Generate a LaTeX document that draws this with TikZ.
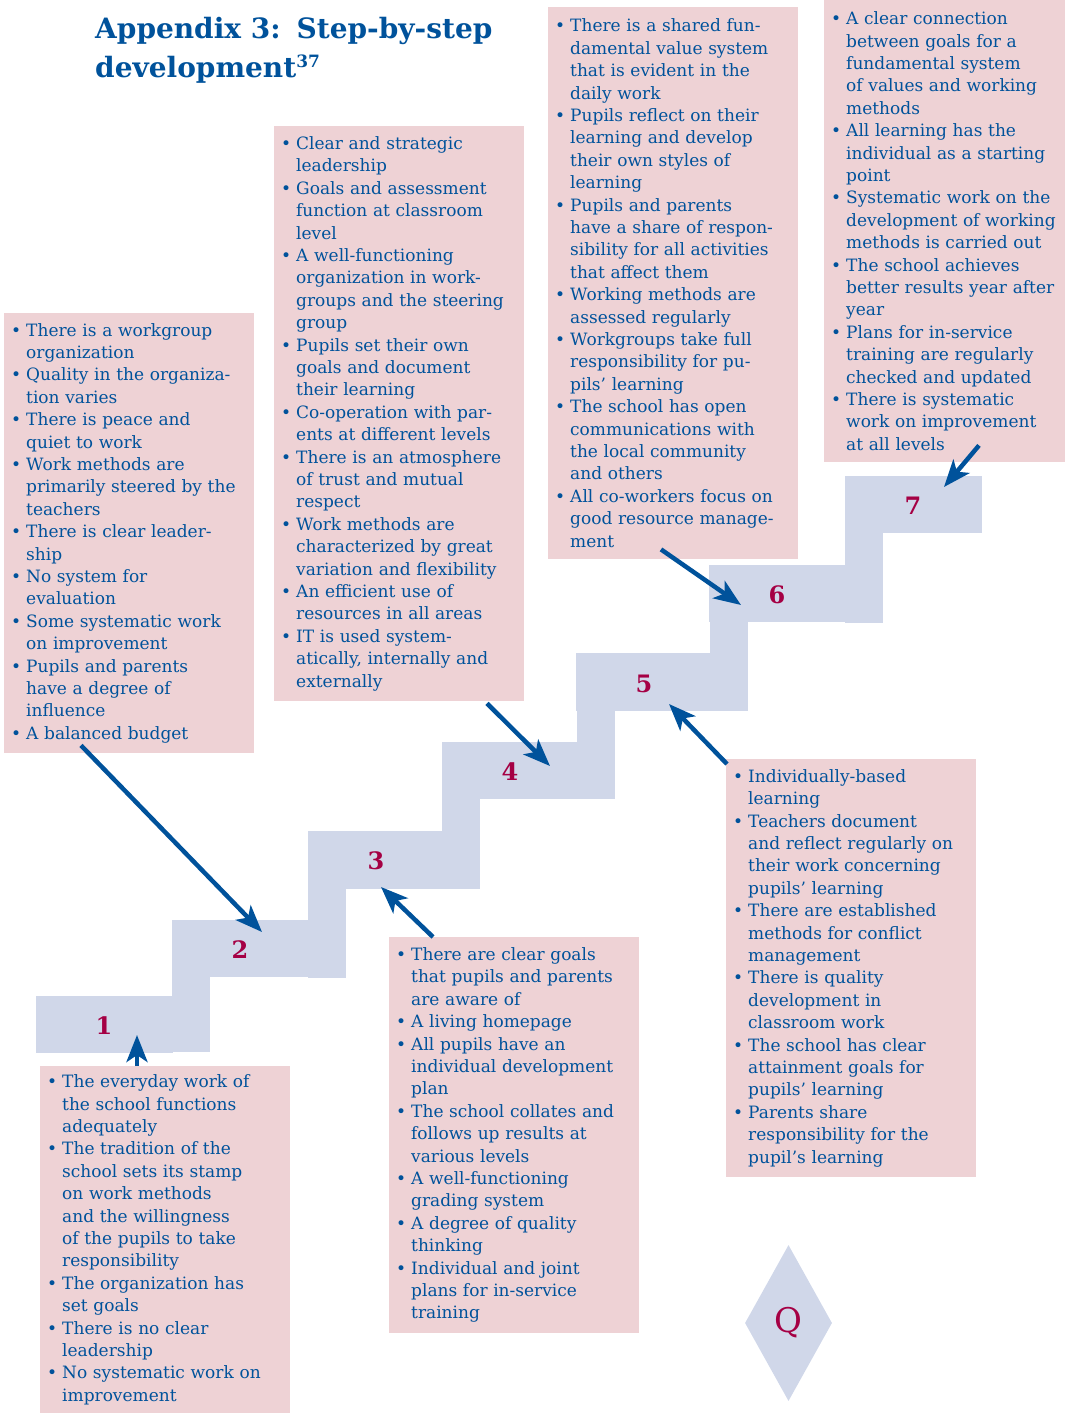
\documentclass[tikz,border=0pt]{standalone}
\usepackage{fontspec}
\setmainfont{DejaVu Serif}
\usetikzlibrary{arrows.meta,calc,shapes.geometric}
\definecolor{stairblue}{HTML}{D0D7E9}
\definecolor{boxpink}{HTML}{EED2D5}
\definecolor{inkblue}{HTML}{00529B}
\definecolor{maroon}{HTML}{A50044}
\newcommand\Bu[1]{\makebox[0pt][l]{\hspace*{7pt}\smash{•}\hspace*{5pt}#1}}
\newcommand\Co[1]{\makebox[0pt][l]{\hspace*{22pt}#1}}
\tikzset{
  pinkbox/.style={fill=boxpink,text=inkblue,anchor=north west,inner sep=0pt,align=left,
    font=\fontsize{17}{22.4}\selectfont},
  stepnum/.style={text=maroon,font=\fontsize{24}{24}\selectfont\bfseries,inner sep=0pt},
  stair/.style={fill=stairblue},
  arr/.style={draw=inkblue,line width=4.5pt,-{Stealth[length=27pt,width=21pt,inset=7pt]}}
}
\begin{document}
\begin{tikzpicture}[x=1pt,y=-1pt]
\useasboundingbox (0,0) rectangle (1065,1413);
% stairs
\fill[stair] (36,996) rectangle (173,1053);
\fill[stair] (172,920) rectangle (210,1052);
\fill[stair] (172,920) rectangle (309,977);
\fill[stair] (308,831) rectangle (346,978);
\fill[stair] (308,831) rectangle (443,889);
\fill[stair] (442,742) rectangle (480,889);
\fill[stair] (442,742) rectangle (578,799);
\fill[stair] (577,653) rectangle (615,799);
\fill[stair] (576,653) rectangle (711,711);
\fill[stair] (710,565) rectangle (748,711);
\fill[stair] (709,565) rectangle (846,622);
\fill[stair] (845,476) rectangle (883,623);
\fill[stair] (845,476) rectangle (982,533);
\node[stepnum] (s1) at (104,1026) {1};
\node[stepnum] (s2) at (240,950) {2};
\node[stepnum] (s3) at (376,861) {3};
\node[stepnum] (s4) at (510,772) {4};
\node[stepnum] (s5) at (644,684) {5};
\node[stepnum] (s6) at (777,595) {6};
\node[stepnum] (s7) at (913,506) {7};
% title
\node[anchor=north west,inner sep=0pt,text=inkblue,align=left,
  font=\fontsize{28}{39}\selectfont\bfseries] (title) at (95,17)
  {Appendix 3:\hspace{16pt}Step-by-step\\development\raisebox{10pt}{\fontsize{17}{17}\selectfont 37}};
% boxes
\node[pinkbox,text width=250pt,minimum height=347pt] (b1) at (40,1066) {%
\Bu{The everyday work of}\\\Co{the school functions}\\\Co{adequately}\\
\Bu{The tradition of the}\\\Co{school sets its stamp}\\\Co{on work methods}\\\Co{and the willingness}\\\Co{of the pupils to take}\\\Co{responsibility}\\
\Bu{The organization has}\\\Co{set goals}\\
\Bu{There is no clear}\\\Co{leadership}\\
\Bu{No systematic work on}\\\Co{improvement}};
\node[pinkbox,text width=250pt,minimum height=440pt] (b2) at (4,313) {%
\Bu{There is a workgroup}\\\Co{organization}\\
\Bu{Quality in the organiza-}\\\Co{tion varies}\\
\Bu{There is peace and}\\\Co{quiet to work}\\
\Bu{Work methods are}\\\Co{primarily steered by the}\\\Co{teachers}\\
\Bu{There is clear leader-}\\\Co{ship}\\
\Bu{No system for}\\\Co{evaluation}\\
\Bu{Some systematic work}\\\Co{on improvement}\\
\Bu{Pupils and parents}\\\Co{have a degree of}\\\Co{influence}\\
\Bu{A balanced budget}};
\node[pinkbox,text width=250pt,minimum height=396pt] (b3) at (389,937) {%
\Bu{There are clear goals}\\\Co{that pupils and parents}\\\Co{are aware of}\\
\Bu{A living homepage}\\
\Bu{All pupils have an}\\\Co{individual development}\\\Co{plan}\\
\Bu{The school collates and}\\\Co{follows up results at}\\\Co{various levels}\\
\Bu{A well-functioning}\\\Co{grading system}\\
\Bu{A degree of quality}\\\Co{thinking}\\
\Bu{Individual and joint}\\\Co{plans for in-service}\\\Co{training}};
\node[pinkbox,text width=250pt,minimum height=575pt] (b4) at (274,126) {%
\Bu{Clear and strategic}\\\Co{leadership}\\
\Bu{Goals and assessment}\\\Co{function at classroom}\\\Co{level}\\
\Bu{A well-functioning}\\\Co{organization in work-}\\\Co{groups and the steering}\\\Co{group}\\
\Bu{Pupils set their own}\\\Co{goals and document}\\\Co{their learning}\\
\Bu{Co-operation with par-}\\\Co{ents at different levels}\\
\Bu{There is an atmosphere}\\\Co{of trust and mutual}\\\Co{respect}\\
\Bu{Work methods are}\\\Co{characterized by great}\\\Co{variation and flexibility}\\
\Bu{An efficient use of}\\\Co{resources in all areas}\\
\Bu{IT is used system-}\\\Co{atically, internally and}\\\Co{externally}};
\node[pinkbox,text width=250pt,minimum height=418pt] (b5) at (726,759) {%
\Bu{Individually-based}\\\Co{learning}\\
\Bu{Teachers document}\\\Co{and reflect regularly on}\\\Co{their work concerning}\\\Co{pupils’ learning}\\
\Bu{There are established}\\\Co{methods for conflict}\\\Co{management}\\
\Bu{There is quality}\\\Co{development in}\\\Co{classroom work}\\
\Bu{The school has clear}\\\Co{attainment goals for}\\\Co{pupils’ learning}\\
\Bu{Parents share}\\\Co{responsibility for the}\\\Co{pupil’s learning}};
\node[pinkbox,text width=250pt,minimum height=552pt] (b6) at (548,7) {%
\Bu{There is a shared fun-}\\\Co{damental value system}\\\Co{that is evident in the}\\\Co{daily work}\\
\Bu{Pupils reflect on their}\\\Co{learning and develop}\\\Co{their own styles of}\\\Co{learning}\\
\Bu{Pupils and parents}\\\Co{have a share of respon-}\\\Co{sibility for all activities}\\\Co{that affect them}\\
\Bu{Working methods are}\\\Co{assessed regularly}\\
\Bu{Workgroups take full}\\\Co{responsibility for pu-}\\\Co{pils’ learning}\\
\Bu{The school has open}\\\Co{communications with}\\\Co{the local community}\\\Co{and others}\\
\Bu{All co-workers focus on}\\\Co{good resource manage-}\\\Co{ment}};
\node[pinkbox,text width=241pt,minimum height=462pt] (b7) at (824,0) {%
\Bu{A clear connection}\\\Co{between goals for a}\\\Co{fundamental system}\\\Co{of values and working}\\\Co{methods}\\
\Bu{All learning has the}\\\Co{individual as a starting}\\\Co{point}\\
\Bu{Systematic work on the}\\\Co{development of working}\\\Co{methods is carried out}\\
\Bu{The school achieves}\\\Co{better results year after}\\\Co{year}\\
\Bu{Plans for in-service}\\\Co{training are regularly}\\\Co{checked and updated}\\
\Bu{There is systematic}\\\Co{work on improvement}\\\Co{at all levels}};
% diamond
\node[diamond,aspect=0.56,fill=stairblue,minimum width=87pt,minimum height=156pt,inner sep=0pt,
  text=maroon,font=\fontsize{34}{34}\selectfont] (pg) at (788.5,1323) {Q};
% arrows
\draw[arr] ($(b1.north west)+(97,0)$) -- ($(s1)+(33,9)$);
\draw[arr] ($(b2.south west)+(77,-8)$) -- ($(s2)+(22,-18)$);
\draw[arr] ($(b3.north west)+(44,0)$) -- ($(s3)+(5,26)$);
\draw[arr] ($(b4.south west)+(213,2)$) -- ($(s4)+(40,-6)$);
\draw[arr] ($(b5.north west)+(1,5)$) -- ($(s5)+(25,20)$);
\draw[arr] ($(b6.south west)+(113,-10)$) -- ($(s6)+(-36,10)$);
\draw[arr] ($(b7.south west)+(155,-17)$) -- ($(s7)+(31,-19)$);
\end{tikzpicture}
\end{document}
